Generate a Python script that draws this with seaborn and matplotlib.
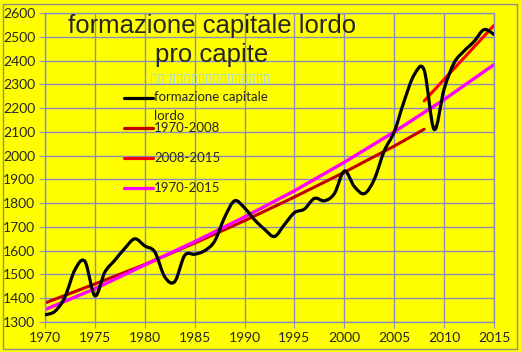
import numpy as np
import pandas as pd
import matplotlib
matplotlib.use("Agg")
import matplotlib.pyplot as plt
import seaborn as sns
from matplotlib.path import Path
from matplotlib.patches import PathPatch, Rectangle
from matplotlib.lines import Line2D

# =========================
# DATA
# =========================
years = list(range(1970, 2016))
fcl = [1330, 1345, 1405, 1520, 1555, 1410, 1510, 1560, 1610, 1650,
       1620, 1595, 1490, 1470, 1580, 1585, 1600, 1640, 1740, 1810,
       1780, 1730, 1690, 1660, 1710, 1760, 1775, 1820, 1810, 1840,
       1935, 1870, 1840, 1900, 2020, 2100, 2230, 2340, 2360, 2110,
       2280, 2390, 2440, 2480, 2530, 2510]

years_7008 = [1970, 1975, 1980, 1985, 1990, 1995, 2000, 2005, 2008]
trend_7008 = [1380, 1460, 1542, 1632, 1726, 1826, 1930, 2040, 2111]

years_0815 = [2008, 2015]
trend_0815 = [2230, 2548]

years_7015 = [1970, 1975, 1980, 1985, 1990, 1995, 2000, 2005, 2010, 2015]
trend_7015 = [1352, 1440, 1540, 1638, 1742, 1852, 1972, 2100, 2236, 2383]

labels = ["formazione capitale\nlordo", "1970-2008", "2008-2015", "1970-2015"]
colors = ["black", "#C00000", "#FF0000", "#FF00FF"]

GRID = "#8C8CC4"
BG = "#FFFF00"


def smooth_path(x, y):
    """linea smussata stile Excel (bezier cubiche)"""
    pts = np.column_stack([x, y]).astype(float)
    verts = [pts[0]]
    codes = [Path.MOVETO]
    n = len(pts)
    for i in range(n - 1):
        p0 = pts[i - 1] if i > 0 else pts[i]
        p1, p2 = pts[i], pts[i + 1]
        p3 = pts[i + 2] if i + 2 < n else pts[i + 1]
        verts += [p1 + (p2 - p0) / 6, p2 - (p3 - p1) / 6, p2]
        codes += [Path.CURVE4] * 3
    return Path(verts, codes)


sns.set_style("white")
plt.rcParams["font.family"] = ["Lato", "DejaVu Sans"]

fig = plt.figure(figsize=(5.21, 3.52), dpi=100, facecolor=BG)
ax = fig.add_axes([45 / 521, 1 - 322 / 352, 449 / 521, 309 / 352])
ax.set_facecolor(BG)

# linee di tendenza
sns.lineplot(x=years_7008, y=trend_7008, color=colors[1], lw=2.2, ax=ax)
sns.lineplot(x=years_0815, y=trend_0815, color=colors[2], lw=2.2, ax=ax)
sns.lineplot(x=years_7015, y=trend_7015, color=colors[3], lw=2.4, ax=ax)

# serie principale smussata
ax.add_patch(PathPatch(smooth_path(years, fcl), fill=False, edgecolor="black",
                       lw=2.3, joinstyle="round", capstyle="round", zorder=3))

ax.set_xlim(1970, 2015)
ax.set_ylim(1300, 2600)
ax.set_xticks(range(1970, 2016, 5))
ax.set_yticks(range(1300, 2601, 100))
ax.grid(True, color=GRID, lw=1)
ax.set_axisbelow(True)
for s in ax.spines.values():
    s.set_color(GRID)
    s.set_linewidth(1)
ax.tick_params(axis="both", labelsize=10, length=4, color=GRID, pad=3,
               direction="out", left=True, bottom=True)
ax.set_xlabel("")
ax.set_ylabel("")

# titolo
fig.text(212 / 521, 1 - 33 / 352, "formazione capitale lordo", ha="center",
         va="baseline", fontsize=18.5, family="Liberation Sans")
fig.text(212 / 521, 1 - 62 / 352, "pro capite", ha="center",
         va="baseline", fontsize=18.5, family="Liberation Sans")
fig.text(150 / 521, 1 - 78 / 352, "▯▯ ▯▯▯▯▯▯▯▯▯▯▯▯▯▯", ha="left", va="center",
         fontsize=9.5, color="#9ED6EA", family="DejaVu Sans")

# legenda
leg_y = [98, 128, 158, 188]
for lab, col, yy in zip(labels, colors, leg_y):
    fy = 1 - yy / 352
    fig.add_artist(Line2D([124 / 521, 153 / 521], [fy, fy], color=col, lw=2.3))
    if "\n" in lab:
        fig.text(154 / 521, fy + 7 / 352, lab, ha="left", va="top",
                 fontsize=9.5, linespacing=1.75)
    else:
        fig.text(154 / 521, fy, lab, ha="left", va="center", fontsize=9.5)

# bordo esterno
fig.add_artist(Rectangle((3 / 521, 3 / 352), 514 / 521, 345 / 352, fill=False,
                         edgecolor="#8C8C8C", lw=1, transform=fig.transFigure))

fig.savefig("out.png", dpi=100, facecolor=BG)
